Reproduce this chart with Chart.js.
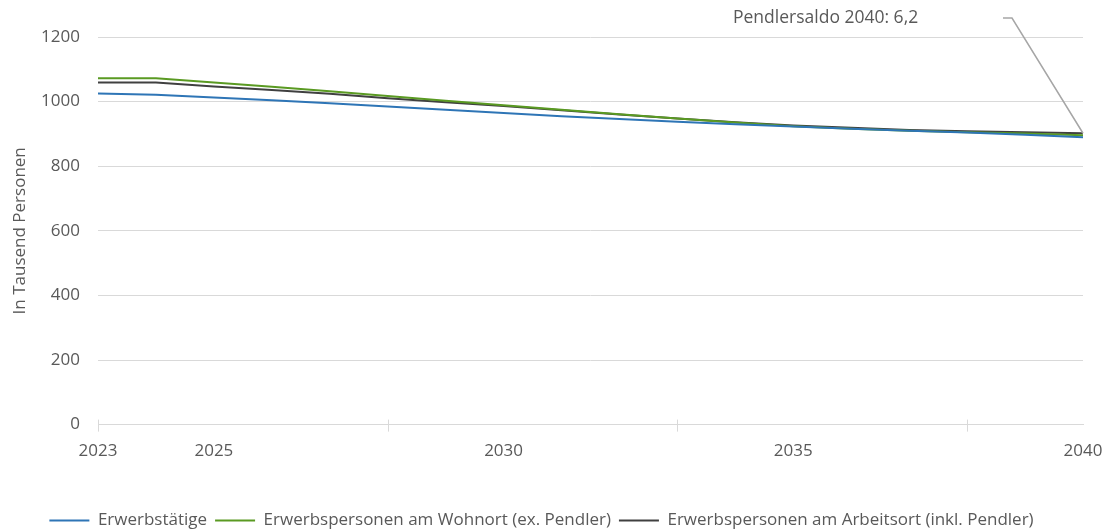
<!DOCTYPE html>
<html>
<head>
<meta charset="utf-8">
<script src="https://cdn.jsdelivr.net/npm/chart.js@4.4.1/dist/chart.umd.min.js"></script>
<style>
  html, body { margin: 0; padding: 0; background: #fff; }
  #wrap { width: 1108px; height: 531px; }
</style>
</head>
<body>
<div id="wrap"><canvas id="chart"></canvas></div>
<script>
// data
const years = [2023, 2024, 2025, 2026, 2027, 2028, 2029, 2030, 2031, 2032, 2033, 2034, 2035, 2036, 2037, 2038, 2039, 2040];
const erwerbstaetige = [1025, 1021, 1013, 1004, 995, 985, 975, 965, 955, 946, 938, 930, 923, 916, 910, 904, 897, 890];
const wohnort = [1072, 1072, 1059, 1046, 1032, 1017, 1003, 989, 975, 961, 948, 935, 924, 916, 910, 905, 901, 896];
const arbeitsort = [1059, 1059, 1047, 1036, 1024, 1010, 998, 986, 973, 960, 948, 936, 926, 919, 912, 908, 905, 902];
const seriesNames = ['Erwerbstätige', 'Erwerbspersonen am Wohnort (ex. Pendler)', 'Erwerbspersonen am Arbeitsort (inkl. Pendler)'];
const xLabelYears = [2023, 2025, 2030, 2035, 2040];
const tickMarkYears = [2023, 2028, 2033, 2038];
const yTicks = [0, 200, 400, 600, 800, 1000, 1200];
const annotationText = 'Pendlersaldo 2040: 6,2';

const textColor = '#595959';
const gridColor = '#d9d9d9';
const fontFamily = '"Open Sans", sans-serif';

const toPoints = vals => vals.map((v, i) => ({ x: years[i], y: v }));

// tick marks on the x axis + the leader-line annotation
const extras = {
  id: 'extras',
  afterDraw(chart) {
    const { ctx, scales: { x, y } } = chart;
    const y0 = y.getPixelForValue(0);
    ctx.save();
    ctx.strokeStyle = gridColor;
    ctx.lineWidth = 1;
    tickMarkYears.forEach(yr => {
      const px = Math.round(x.getPixelForValue(yr)) + 0.5;
      ctx.beginPath();
      ctx.moveTo(px, y0 - 5);
      ctx.lineTo(px, y0 + 7);
      ctx.stroke();
    });

    // annotation
    const lastIdx = years.length - 1;
    const ax = x.getPixelForValue(years[lastIdx]);
    const ay = y.getPixelForValue(arbeitsort[lastIdx]);
    ctx.font = '17.5px ' + fontFamily;
    ctx.fillStyle = textColor;
    ctx.textBaseline = 'middle';
    ctx.textAlign = 'left';
    ctx.fillText(annotationText, 733, 18);
    ctx.strokeStyle = '#a6a6a6';
    ctx.lineWidth = 1.5;
    ctx.beginPath();
    ctx.moveTo(1003, 18);
    ctx.lineTo(1012, 18);
    ctx.lineTo(ax, ay);
    ctx.stroke();
    ctx.restore();
  }
};

new Chart(document.getElementById('chart'), {
  type: 'line',
  data: {
    datasets: [
      { label: seriesNames[0], data: toPoints(erwerbstaetige), borderColor: '#2e75b6', backgroundColor: '#2e75b6', borderWidth: 2 },
      { label: seriesNames[1], data: toPoints(wohnort), borderColor: '#5a9a22', backgroundColor: '#5a9a22', borderWidth: 2 },
      { label: seriesNames[2], data: toPoints(arbeitsort), borderColor: '#404040', backgroundColor: '#404040', borderWidth: 2 }
    ]
  },
  options: {
    responsive: true,
    maintainAspectRatio: false,
    animation: false,
    elements: {
      line: { tension: 0 },
      point: { radius: 0 }
    },
    layout: { padding: { top: 37, right: 25, left: 0, bottom: -8 } },
    scales: {
      x: {
        type: 'linear',
        min: 2023,
        max: 2040,
        afterBuildTicks: axis => { axis.ticks = xLabelYears.map(v => ({ value: v })); },
        afterFit: axis => { axis.height += 35; axis.paddingRight = 0; axis.paddingLeft = 0; },
        grid: { display: false },
        border: { display: true, color: gridColor },
        ticks: {
          color: textColor,
          font: { family: fontFamily, size: 17 },
          padding: 8,
          maxRotation: 0,
          callback: v => String(v)
        }
      },
      y: {
        min: 0,
        max: 1200,
        afterBuildTicks: axis => { axis.ticks = yTicks.map(v => ({ value: v })); },
        afterFit: axis => { axis.width = 98; },
        grid: { color: gridColor, drawTicks: false },
        border: { display: false },
        ticks: {
          color: textColor,
          font: { family: fontFamily, size: 17 },
          padding: 18,
          callback: v => String(v)
        },
        title: {
          display: true,
          text: 'In Tausend Personen',
          color: textColor,
          font: { family: fontFamily, size: 17 },
          padding: { top: 10, bottom: 0 }
        }
      }
    },
    plugins: {
      legend: {
        position: 'bottom',
        labels: {
          color: textColor,
          font: { family: fontFamily, size: 17 },
          usePointStyle: true,
          pointStyle: 'line',
          pointStyleWidth: 40,
          padding: 8
        }
      },
      tooltip: { enabled: false }
    }
  },
  plugins: [extras]
});
</script>
</body>
</html>
